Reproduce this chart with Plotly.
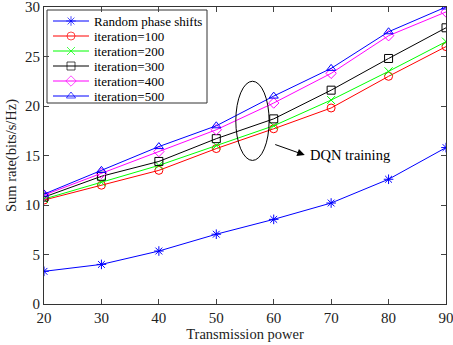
import plotly.graph_objects as go

power = [20, 30, 40, 50, 60, 70, 80, 90]
random_phase = [3.3, 4.0, 5.35, 7.05, 8.55, 10.2, 12.6, 15.8]
iter100 = [10.5, 12.0, 13.5, 15.7, 17.7, 19.8, 23.0, 26.0]
iter200 = [10.6, 12.3, 14.0, 16.0, 18.0, 20.6, 23.5, 26.5]
iter300 = [10.8, 12.9, 14.4, 16.7, 18.7, 21.6, 24.8, 27.9]
iter400 = [11.0, 13.2, 15.4, 17.6, 20.3, 23.3, 27.1, 29.5]
iter500 = [11.1, 13.5, 15.9, 18.0, 21.0, 23.8, 27.5, 30.0]

series_names = ["Random phase shifts", "iteration=100", "iteration=200",
                "iteration=300", "iteration=400", "iteration=500"]
series_values = [random_phase, iter100, iter200, iter300, iter400, iter500]
colors = ["#0000FF", "#FF0000", "#00FF00", "#000000", "#FF00FF", "#0000FF"]
symbols = ["asterisk-open", "circle-open", "x-thin-open", "square-open",
           "diamond-open", "triangle-up-open"]

font = "Liberation Serif, Times New Roman, serif"
L, R, T, B = 44, 7, 7, 41
W, H = 453, 345

fig = go.Figure()
for name, ys, color, sym in zip(series_names, series_values, colors, symbols):
    fig.add_trace(go.Scatter(
        x=power, y=ys, name=name, mode="lines+markers", showlegend=False,
        line=dict(color=color, width=1),
        marker=dict(symbol=sym, size=8, color=color, line=dict(color=color, width=1)),
    ))

# manual legend drawn on a pixel-unit overlay axis pair
leg_x0, leg_x1, leg_y0, leg_y1 = 47, 207, 10, 103
row0, pitch = 21, 15
for i, (name, color, sym) in enumerate(zip(series_names, colors, symbols)):
    yy = row0 + pitch * i
    fig.add_trace(go.Scatter(
        x=[53, 71, 89], y=[yy, yy, yy], xaxis="x2", yaxis="y2",
        mode="lines+markers", showlegend=False, hoverinfo="skip",
        line=dict(color=color, width=1),
        marker=dict(symbol=sym, size=[0, 8, 0], color=color, line=dict(color=color, width=1)),
    ))
    fig.add_annotation(x=92, y=yy, xref="x2", yref="y2", text=name, showarrow=False,
                       xanchor="left", yanchor="middle",
                       font=dict(family=font, size=13, color="black"))
fig.add_shape(type="rect", xref="x2", yref="y2", x0=leg_x0, x1=leg_x1, y0=leg_y0, y1=leg_y1,
              line=dict(color="#333", width=1), fillcolor="white", layer="below")

fig.update_layout(
    width=W, height=H,
    margin=dict(l=L, r=R, t=T, b=B),
    plot_bgcolor="white", paper_bgcolor="white",
    font=dict(family=font, size=13, color="#222"),
    showlegend=False,
    xaxis=dict(range=[20, 90], tickvals=power, ticks="inside", ticklen=5,
               showline=True, linecolor="#333", linewidth=1, mirror="ticks",
               showgrid=False, zeroline=False, automargin=False,
               ticklabeloverflow="allow",
               title=dict(text="Transmission power", standoff=2, font=dict(size=14.5)),
               tickfont=dict(size=15)),
    yaxis=dict(range=[0, 30], tickvals=[0, 5, 10, 15, 20, 25, 30], ticks="inside", ticklen=5,
               showline=True, linecolor="#333", linewidth=1, mirror="ticks",
               showgrid=False, zeroline=False, automargin=False,
               ticklabeloverflow="allow",
               title=dict(text="Sum rate(bits/s/Hz)", standoff=4, font=dict(size=14.5)),
               tickfont=dict(size=15)),
    xaxis2=dict(range=[L, W - R], overlaying="x", visible=False, fixedrange=True),
    yaxis2=dict(range=[H - B, T], overlaying="y", visible=False, fixedrange=True),
)

fig.add_shape(type="circle", xref="x", yref="y", x0=53.4, x1=59.2, y0=14.5, y1=22.5,
              line=dict(color="black", width=1))
fig.add_annotation(x=65.4, y=15.05, xref="x", yref="y", ax=-31, ay=-11,
                   text="", showarrow=True, arrowhead=2, arrowsize=1.5, arrowwidth=1,
                   arrowcolor="black")
fig.add_annotation(x=66.0, y=15.1, xref="x", yref="y", text="DQN training",
                   showarrow=False, xanchor="left", yanchor="middle",
                   font=dict(family=font, size=14.5, color="black"))

fig.write_html("out.html", config={"displayModeBar": False},
               post_script="document.body.style.margin='0';document.body.style.padding='0';")
